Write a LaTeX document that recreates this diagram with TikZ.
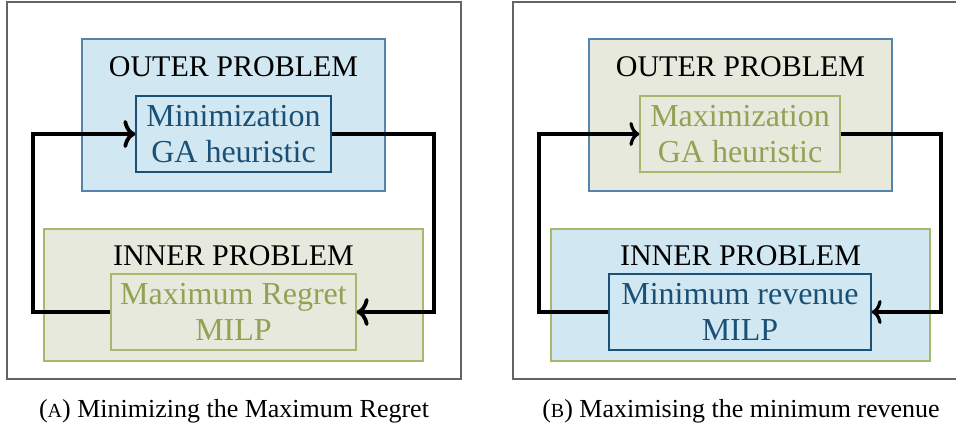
\documentclass[tikz,border=0pt]{standalone}
\usepackage{fontspec}
\setmainfont{Liberation Serif}
\usetikzlibrary{arrows.meta}

\definecolor{skyfill}{RGB}{209,232,242}
\definecolor{skyedge}{RGB}{84,132,172}
\definecolor{navy}{RGB}{26,80,118}
\definecolor{olivefill}{RGB}{231,233,220}
\definecolor{oliveedge}{RGB}{168,183,110}
\definecolor{olivetext}{RGB}{146,162,85}
\definecolor{framegrey}{RGB}{100,100,100}

% small capital letter for the sub-figure tags
\newcommand{\subtag}[1]{{\fontsize{10}{12}\selectfont #1}}

\begin{document}
\begin{tikzpicture}[x=0.5pt,y=-0.5pt,
  panel/.style={draw=framegrey, line width=0.8pt, inner sep=0pt},
  box/.style={draw, inner sep=0pt, line width=0.6pt, align=center,
    font=\fontsize{16}{18}\selectfont},
  skybox/.style={box, fill=skyfill, draw=skyedge},
  olivebox/.style={box, fill=olivefill, draw=oliveedge},
  navybox/.style={box, fill=skyfill, draw=navy, text=navy},
  olivetextbox/.style={box, fill=olivefill, draw=oliveedge, text=olivetext},
  heading/.style={anchor=base, inner sep=0pt, font=\fontsize{15}{18}\selectfont},
  caption/.style={anchor=base, inner sep=0pt, font=\fontsize{13}{15}\selectfont},
  loopA/.style={line width=1.9pt, -{Computer Modern Rightarrow[length=6pt,width=14pt]}},
  loopB/.style={line width=1.6pt, -{Computer Modern Rightarrow[length=5pt,width=12pt]}}
]
\useasboundingbox (0,0) rectangle (956,428);

% ---------- (A) min-max regret ----------
\node[panel, minimum width=227pt, minimum height=188.5pt] (pa) at (234,190.5) {};
\node[skybox, minimum width=151.5pt, minimum height=76pt] (oa) at (233.5,115) {};
\node[heading] (oha) at (233.5,76) {OUTER PROBLEM};
\node[navybox, minimum width=97.5pt, minimum height=38pt] (ma) at (233.5,134) {Minimization\\GA heuristic};
\node[olivebox, minimum width=189.5pt, minimum height=66pt] (ia) at (233.5,295) {};
\node[heading] (iha) at (233.5,265) {INNER PROBLEM};
\node[olivetextbox, minimum width=122.5pt, minimum height=38pt] (ra) at (233.5,312) {Maximum Regret\\MILP};
\coordinate (la) at (33,0);
\coordinate (rra) at (434,0);
\draw[loopA] (ra.west) -- (ra.west -| la) |- (ma.west);
\draw[loopA] (ma.east) -- (ma.east -| rra) |- (ra.east);
\node[caption] (ca) at (234,417) {(\subtag{A}) Minimizing the Maximum Regret};

% ---------- (B) max-min revenue ----------
\node[panel, minimum width=227.5pt, minimum height=188.5pt] (pb) at (740.5,190.5) {};
\node[olivebox, draw=skyedge, minimum width=151.5pt, minimum height=76pt] (ob) at (740.5,115) {};
\node[heading] (ohb) at (740.5,76) {OUTER PROBLEM};
\node[olivetextbox, minimum width=100pt, minimum height=38pt] (mb) at (740,134) {Maximization\\GA heuristic};
\node[skybox, draw=oliveedge, minimum width=189.5pt, minimum height=66pt] (ib) at (740.5,295) {};
\node[heading] (ihb) at (740.5,265) {INNER PROBLEM};
\node[navybox, minimum width=131pt, minimum height=38pt] (rb) at (740,312) {Minimum revenue\\MILP};
\coordinate (lb) at (539,0);
\coordinate (rrb) at (941,0);
\draw[loopB] (rb.west) -- (rb.west -| lb) |- (mb.west);
\draw[loopB] (mb.east) -- (mb.east -| rrb) |- (rb.east);
\node[caption] (cb) at (741,417) {(\subtag{B}) Maximising the minimum revenue};
\end{tikzpicture}
\end{document}
